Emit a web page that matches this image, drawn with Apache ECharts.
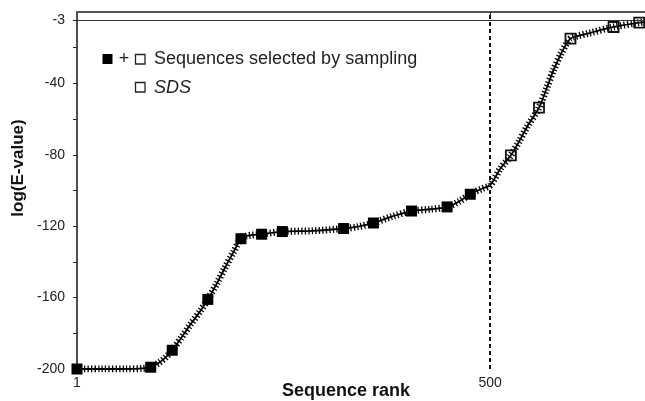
<!DOCTYPE html>
<html>
<head>
<meta charset="utf-8">
<script src="https://cdn.jsdelivr.net/npm/echarts@6/dist/echarts.min.js"></script>
<style>html,body{margin:0;padding:0;background:#fff}#c{width:645px;height:401px}</style>
</head>
<body>
<div id="c"></div>
<script>
// ---- data ----
const curveRanks  = [1, 30, 60, 80, 90, 100, 108, 116, 127, 138, 150, 159, 170, 180, 190, 199, 205, 212, 224, 249, 285, 323, 340, 359, 382, 405, 428, 448, 463, 476, 490, 500, 512, 525, 535, 545, 559, 568, 577, 586, 592, 597, 605, 620, 649, 680, 687];
const curveValues = [-200, -200, -200, -199.7, -199, -196.5, -193.5, -189.5, -182.5, -175, -167.5, -161, -152, -143, -134.5, -127, -125.6, -125, -124.5, -123, -122.6, -121.3, -120.3, -118.2, -114.5, -111.5, -110.5, -109.2, -106, -102, -99, -97, -88, -80.3, -72.5, -64, -53.6, -43, -32, -23, -18, -14.9, -13.5, -11.8, -8.4, -5.9, -5.5];
const sampledRanks  = [1, 90, 116, 159, 199, 224, 249, 323, 359, 405, 448, 476];
const sampledValues = [-200, -199, -189.5, -161, -127, -124.5, -123, -121.3, -118.2, -111.5, -109.2, -102.1];
const sdsRanks  = [525, 559, 597, 649, 680];
const sdsValues = [-80.3, -53.6, -14.9, -8.4, -5.9];
const xTickLabels = [1, 500];
const yTickValues = [-200, -180, -160, -140, -120, -100, -80, -60, -40, -20];
const yLabelValues = [-200, -160, -120, -80, -40];
const thresholdValue = -4.5;   // where the "-3" line sits on the axis
const thresholdLabel = '-3';
const cutoffRank = 500;
const xMin = 1, xMax = 687, yMin = -200, yMax = 0;

const zip = (a, b) => a.map((v, i) => [v, b[i]]);
const curve = zip(curveRanks, curveValues);

const chart = echarts.init(document.getElementById('c'), null, {renderer: 'canvas'});
const FONT = 'Liberation Sans, Arial, sans-serif';

chart.setOption({
  animation: false,
  backgroundColor: '#fff',
  grid: {left: 77, right: 0, top: 12, bottom: 32, outerBoundsMode: 'none', containLabel: false},
  xAxis: [{
    type: 'value', min: xMin, max: xMax, position: 'bottom',
    axisLine: {show: true, lineStyle: {color: '#555', width: 1.5}},
    axisTick: {show: true, inside: false, length: 4, customValues: [cutoffRank], lineStyle: {color: '#333', width: 1}},
    axisLabel: {show: true, customValues: xTickLabels, margin: 7, color: '#222', fontSize: 14, fontFamily: FONT},
    splitLine: {show: false}
  }, {
    type: 'value', min: xMin, max: xMax, position: 'top',
    axisLine: {show: true, lineStyle: {color: '#555', width: 2}},
    axisTick: {show: false}, axisLabel: {show: false}, splitLine: {show: false}
  }],
  yAxis: {
    type: 'value', min: yMin, max: yMax,
    axisLine: {show: true, onZero: false, lineStyle: {color: '#111', width: 1.5}},
    axisTick: {show: true, length: 4, customValues: yTickValues.concat([thresholdValue]), lineStyle: {color: '#222', width: 1}},
    axisLabel: {
      show: true, customValues: yLabelValues.concat([thresholdValue]), margin: 12,
      color: '#222', fontSize: 14, fontFamily: FONT,
      formatter: v => (v === thresholdValue ? thresholdLabel : String(v))
    },
    splitLine: {show: false}
  },
  series: [
    {
      type: 'line', data: curve, smooth: 0.3, showSymbol: false, symbol: 'none',
      lineStyle: {color: '#000', width: 1.8}, z: 2,
      markLine: {
        silent: true, symbol: 'none', animation: false,
        label: {show: false},
        data: [
          {xAxis: cutoffRank, lineStyle: {color: '#111', width: 2, type: [4, 3]}},
          {yAxis: thresholdValue, lineStyle: {color: '#333', width: 1, type: 'solid'}}
        ]
      }
    },
    {
      type: 'line', data: curve, smooth: 0.3, showSymbol: false, symbol: 'none',
      lineStyle: {color: '#000', width: 7, type: [1.3, 2.2]}, z: 3
    },
    {
      type: 'scatter', data: zip(sampledRanks, sampledValues), symbol: 'rect', symbolSize: 11,
      itemStyle: {color: '#000', opacity: 1}, z: 4
    },
    {
      type: 'scatter', data: zip(sdsRanks, sdsValues), symbol: 'rect', symbolSize: 10,
      itemStyle: {color: 'rgba(255,255,255,0)', borderColor: '#111', borderWidth: 1.8, opacity: 1}, z: 5
    }
  ],
  graphic: [
    {type: 'rect', shape: {x: 102.5, y: 54, width: 10, height: 10}, style: {fill: '#000'}},
    {type: 'text', style: {x: 124, y: 59, text: '+', fill: '#222', font: '18px ' + FONT, align: 'center', verticalAlign: 'middle'}},
    {type: 'rect', shape: {x: 135.5, y: 54.5, width: 9.5, height: 9.5}, style: {fill: 'none', stroke: '#222', lineWidth: 1.3}},
    {type: 'text', style: {x: 154, y: 59, text: 'Sequences selected by sampling', fill: '#222', font: '18px ' + FONT, verticalAlign: 'middle'}},
    {type: 'rect', shape: {x: 135.5, y: 82.5, width: 9.5, height: 9.5}, style: {fill: 'none', stroke: '#222', lineWidth: 1.3}},
    {type: 'text', style: {x: 154, y: 87.5, text: 'SDS', fill: '#222', font: 'italic 18px ' + FONT, verticalAlign: 'middle'}},
    {type: 'text', rotation: Math.PI / 2, x: 18, y: 168, style: {x: 0, y: 0, text: 'log(E-value)', fill: '#111', font: 'bold 17px ' + FONT, align: 'center', verticalAlign: 'middle'}},
    {type: 'text', style: {x: 346, y: 391, text: 'Sequence rank', fill: '#111', font: 'bold 18px ' + FONT, align: 'center', verticalAlign: 'middle'}}
  ]
});
</script>
</body>
</html>
